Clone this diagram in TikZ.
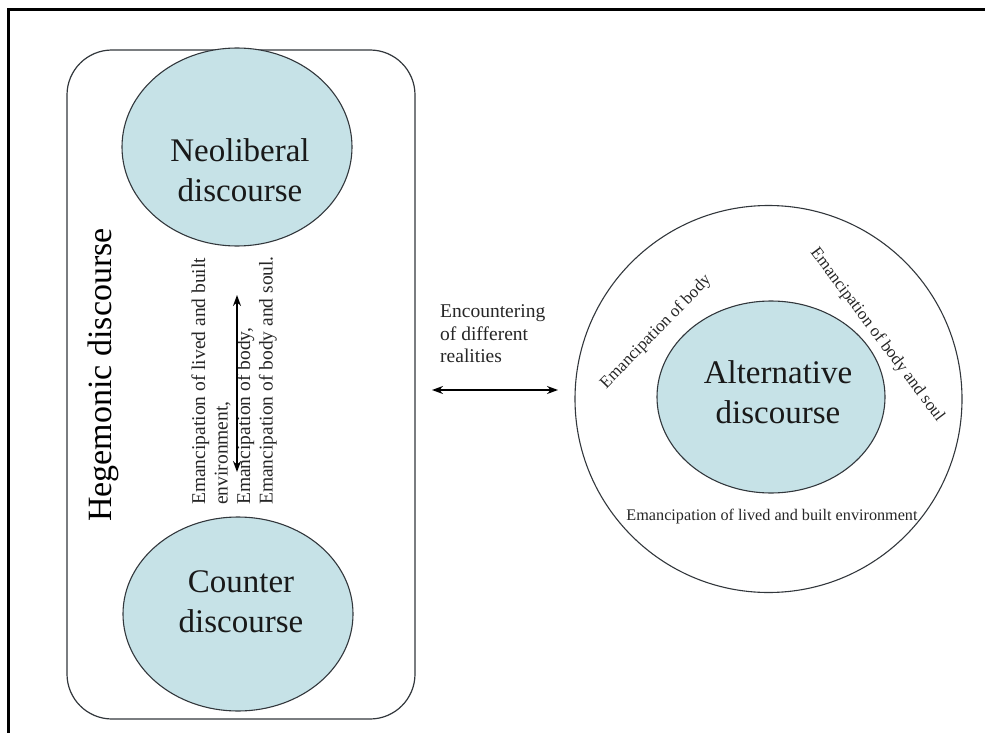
\documentclass[tikz,border=0pt]{standalone}
\usepackage{fontspec}
\setmainfont{Liberation Serif}
\usetikzlibrary{arrows.meta,shapes.geometric}
\definecolor{discfill}{RGB}{198,226,231}
\definecolor{edge}{RGB}{50,55,60}
\tikzset{
  disc/.style={ellipse, draw=edge, line width=1.1pt, fill=discfill, inner sep=0pt},
  bigtxt/.style={font=\fontsize{33}{40}\selectfont, align=center, text=black!90, inner sep=0pt},
  midtxt/.style={font=\fontsize{19.5}{22.5}\selectfont, align=left, text=black!85, inner sep=0pt},
  smalltxt/.style={font=\fontsize{17}{20}\selectfont, text=black!85, inner sep=0pt},
  dblarrow/.style={{Stealth[length=11pt,width=8pt]}-{Stealth[length=11pt,width=8pt]}, line width=1.4pt},
}
\begin{document}
\begin{tikzpicture}[x=1pt,y=-1pt]
\useasboundingbox (0,0) rectangle (985,733);
% outer frame (top and left edges)
\draw[line width=3pt] (8,733) -- (8,10) -- (985,10);
% hegemonic box
\node[draw=edge, line width=1.2pt, rounded corners=45pt, minimum width=348pt, minimum height=669pt, inner sep=0pt] (heg) at (241,384.5) {};
\node[font=\fontsize{34}{40}\selectfont, rotate=90, inner sep=0pt] (hegtxt) at (103,375) {Hegemonic discourse};
% ellipses
\node[disc, minimum width=230pt, minimum height=198pt] (neo) at (237,147) {};
\node[bigtxt] (neotxt) at (240,170) {Neoliberal\\discourse};
\node[disc, minimum width=230pt, minimum height=194pt] (ctr) at (238,614) {};
\node[bigtxt] (ctrtxt) at (241,602) {Counter\\discourse};
% vertical text and arrow
\node[midtxt, rotate=90, anchor=west] (vtxt) at (234,505) {Emancipation of lived and built\\environment,\\Emancipation of body,\\Emancipation of body and soul.};
\coordinate (vtop) at (237,295);
\coordinate (vbot) at (237,472);
\draw[dblarrow] (vtop) -- (vbot);
% encountering
\node[midtxt, anchor=west] (enc) at (440,334) {Encountering\\of different\\realities};
\coordinate (hl) at (432,390);
\coordinate (hr) at (558,390);
\draw[dblarrow] (hl) -- (hr);
% alternative
\node[circle, draw=edge, line width=1.1pt, minimum size=387pt, inner sep=0pt] (outer) at (768.5,399) {};
\node[disc, minimum width=228pt, minimum height=192pt] (alt) at (771,397) {};
\node[bigtxt] (alttxt) at (778,392) {Alternative\\discourse};
\node[smalltxt, rotate=45.8] (body) at (656,332) {Emancipation of body};
\node[smalltxt, rotate=-53.2] (soul) at (877,335) {Emancipation of body and soul};
\node[smalltxt, font=\fontsize{16.2}{19}\selectfont] (env) at (772,517) {Emancipation of lived and built environment};
\end{tikzpicture}
\end{document}
